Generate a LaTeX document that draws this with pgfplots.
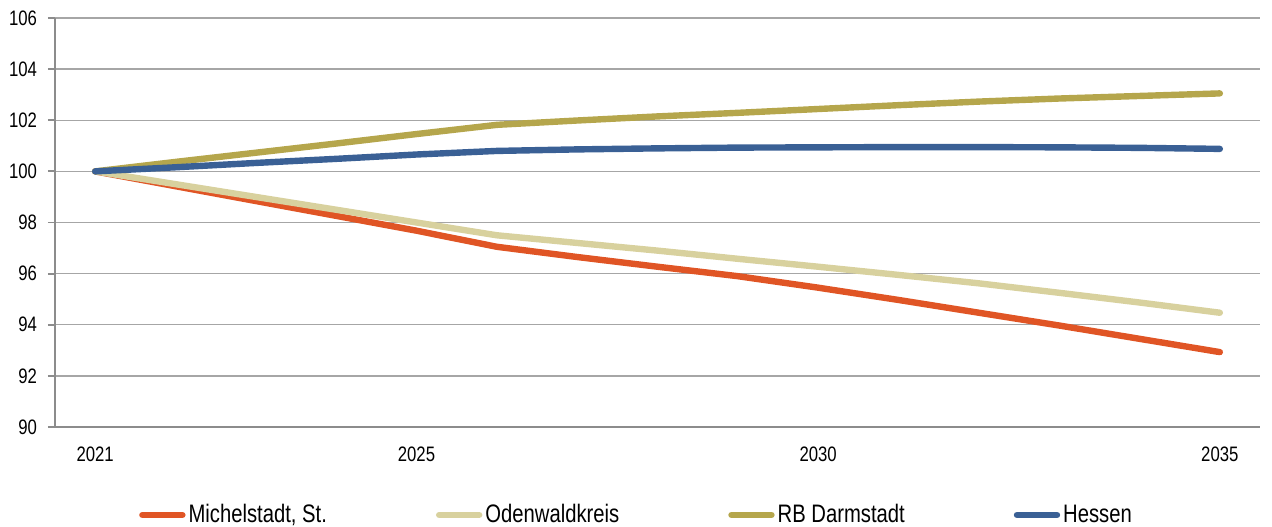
\documentclass[border=0pt]{standalone}
\usepackage{fontspec}
\setmainfont{Liberation Sans}
\newfontfamily\narrowfont[FakeStretch=0.8]{Liberation Sans}
\usepackage{pgfplots}
\pgfplotsset{compat=1.18}
\definecolor{cRed}{HTML}{E05525}
\definecolor{cTan}{HTML}{D8D19E}
\definecolor{cOlive}{HTML}{B5A64C}
\definecolor{cBlue}{HTML}{3A6095}
\definecolor{cAxis}{HTML}{8C8C8C}
\definecolor{cGrid}{HTML}{A6A6A6}
\begin{document}
\begin{tikzpicture}
\begin{axis}[
  scale only axis,
  width=602.5bp, height=204.5bp,
  xmin=-0.5, xmax=14.5,
  ymin=90, ymax=106,
  ytick={90,92,...,106},
  xtick={0,4,9,14},
  xticklabels={2021,2025,2030,2035},
  minor xtick={-0.5,0.5,...,14.5},
  axis x line*=bottom,
  axis y line*=left,
  axis line style={cAxis, line width=0.9bp, -},
  ymajorgrids,
  grid style={cGrid, line width=0.7bp},
  tick style={cAxis, line width=0.9bp},
  tick align=outside,
  major tick length=3.5bp,
  minor tick length=5bp,
  x tick style={draw=none},
  minor x tick style={cAxis, line width=0.9bp},
  tick label style={font=\narrowfont\fontsize{10.5}{12}\selectfont},
  /pgf/number format/assume math mode=true,
  xticklabel style={yshift=-3bp},
  yticklabel style={xshift=-2bp},
  legend columns=4,
  legend cell align=left,
  legend style={at={(0.483,-0.215)}, anchor=center, draw=none, fill=none,
    font=\narrowfont\fontsize{12.7}{14}\selectfont,
    /tikz/every even column/.append style={column sep=53bp},
    nodes={inner xsep=1.5bp}},
  legend image code/.code={\draw[#1, line cap=round] (0bp,0bp) -- (20bp,0bp);},
  every axis plot/.append style={line width=3.2bp, line cap=round, line join=round, mark=none},
]
\addplot[cRed] coordinates {(0,100) (1,99.42) (2,98.84) (3,98.26) (4,97.68) (5,97.05) (6,96.65) (7,96.27) (8,95.9) (9,95.45) (10,94.97) (11,94.47) (12,93.97) (13,93.45) (14,92.93)};
\addlegendentry{Michelstadt, St.}
\addplot[cTan] coordinates {(0,100) (1,99.5) (2,99.0) (3,98.5) (4,98.0) (5,97.5) (6,97.2) (7,96.9) (8,96.58) (9,96.27) (10,95.95) (11,95.62) (12,95.25) (13,94.87) (14,94.47)};
\addlegendentry{Odenwaldkreis}
\addplot[cOlive] coordinates {(0,100) (1,100.37) (2,100.73) (3,101.09) (4,101.46) (5,101.82) (6,101.99) (7,102.15) (8,102.29) (9,102.44) (10,102.59) (11,102.73) (12,102.85) (13,102.95) (14,103.05)};
\addlegendentry{RB Darmstadt}
\addplot[cBlue] coordinates {(0,100) (1,100.16) (2,100.33) (3,100.49) (4,100.66) (5,100.8) (6,100.86) (7,100.9) (8,100.93) (9,100.94) (10,100.95) (11,100.95) (12,100.94) (13,100.92) (14,100.88)};
\addlegendentry{Hessen}
\end{axis}
\pgfresetboundingbox
\path ([shift={(-27.5bp,-50bp)}]current axis.south west) rectangle ([shift={(6bp,9bp)}]current axis.north east);
\end{tikzpicture}
\end{document}
